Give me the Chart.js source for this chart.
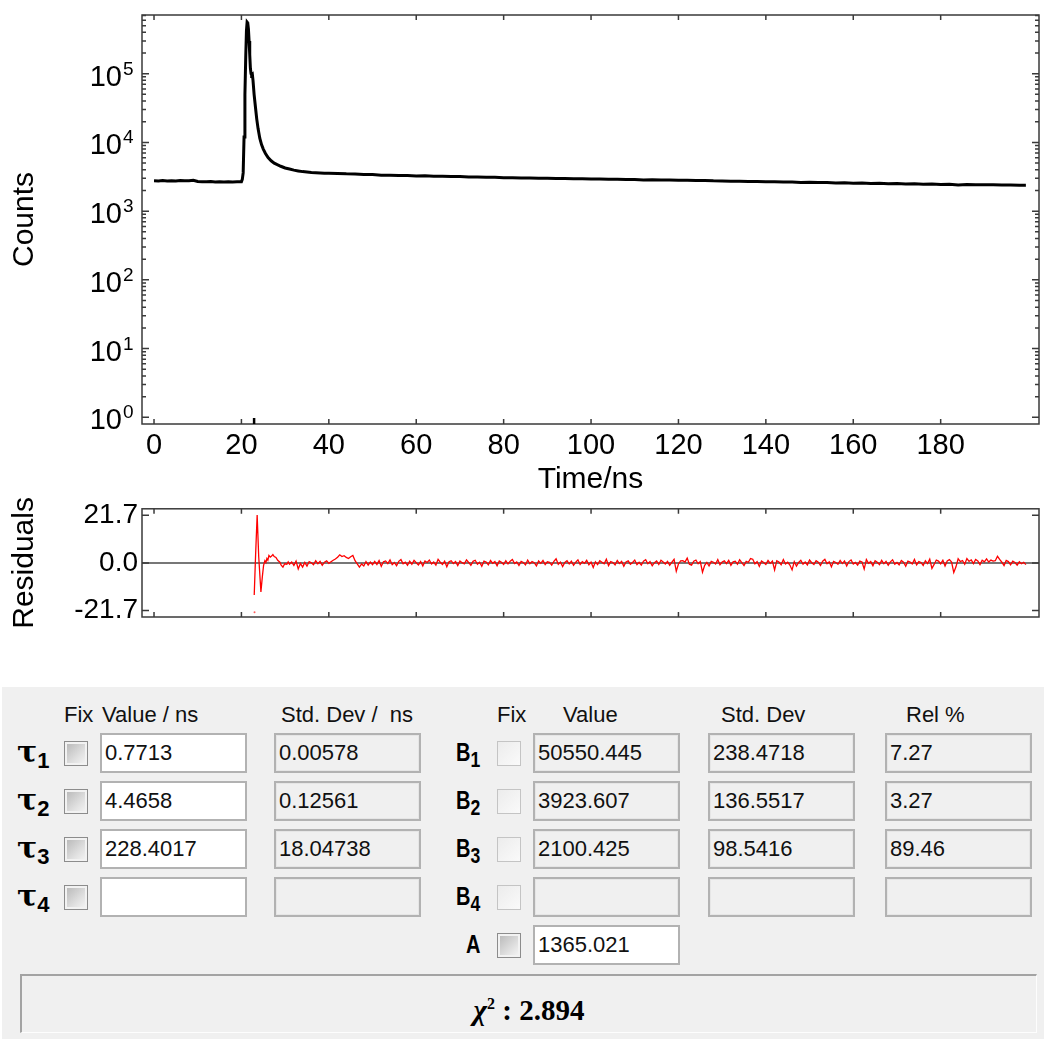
<!DOCTYPE html>
<html>
<head>
<meta charset="utf-8">
<script src="https://cdn.jsdelivr.net/npm/chart.js@4.4.1/dist/chart.umd.min.js"></script>
<style>
  html, body { margin: 0; padding: 0; background: #fff; width: 1044px; height: 1039px; overflow: hidden;
    font-family: "Liberation Sans", Arial, sans-serif; }
  canvas { position: absolute; left: 0; }
  #decay { top: 0; }
  #resid { top: 488px; }
  #panel { position: absolute; left: 2px; top: 687px; width: 1042px; height: 352px; background: #f0f0f0; }
  .hdr { position: absolute; font-size: 22px; line-height: 26px; color: #111; white-space: pre; }
  .box { position: absolute; width: 147px; height: 40px; box-sizing: border-box; border: 2px solid #b2b2b2;
    background: #f0f0f0; box-shadow: inset 0 0 0 1px #e6e6e6; font-size: 22px; line-height: 36px;
    padding-left: 3px; color: #111; }
  .box.white { background: #fff; box-shadow: none; }
  .cb { position: absolute; width: 24px; height: 25px; box-sizing: border-box; border: 1px solid #8c8c8c;
    background: linear-gradient(135deg, #b5b5b5 0%, #e2e2e2 65%, #f7f7f7 100%); box-shadow: inset 0 0 0 2px #f2f2f2; }
  .cb.light { border-color: #c4c4c4; background: linear-gradient(135deg, #ececec 0%, #fafafa 100%); box-shadow: none; }
  .tau { position: absolute; font-family: "DejaVu Serif", serif; font-weight: bold; font-size: 30px; line-height: 30px; color: #000; }
  .tau sub, .blab sub { font-family: "Liberation Sans", Arial, sans-serif; font-weight: bold; font-size: 22px; vertical-align: -6px; }
  .blab { position: absolute; font-weight: bold; font-size: 25px; line-height: 30px; color: #000;
    transform: scaleX(0.8); transform-origin: left center; }
  #chi { position: absolute; left: 20px; top: 974px; width: 1017px; height: 59px; box-sizing: border-box;
    border-top: 2px solid #a3a3a3; border-left: 2px solid #a3a3a3; border-right: 1px solid #fdfdfd; border-bottom: 1px solid #fdfdfd;
    text-align: center; font-family: "Liberation Serif", "Times New Roman", serif; font-weight: bold; font-size: 29px; line-height: 56px; color: #000; }
  #chi i { font-style: italic; }
  #chi sup { font-size: 16px; vertical-align: 11px; }
</style>
</head>
<body>
<canvas id="decay" width="1044" height="500"></canvas>
<canvas id="resid" width="1044" height="152"></canvas>
<div id="panel"></div>
<div id="fitTable"></div>
<div id="chi"></div>
<script>
// decay curve (Counts vs Time/ns)
const timeNs = [
  0, 1, 2, 3, 4, 5, 6, 7, 8, 9, 10, 11, 12, 13, 14, 15, 16, 17, 18, 19, 20,
  20.2, 20.4, 20.6, 20.8, 21.0, 21.15, 21.3, 21.45, 21.6, 21.75, 21.9, 22.05, 22.2, 22.35, 22.5, 22.65,
  22.9, 23.2, 23.5, 23.8, 24.2, 24.6, 25.0, 25.5, 26.1, 26.8, 27.5, 28.2, 29, 30, 31, 32, 33, 34, 35,
  36, 37, 38, 39, 40,
  42, 44, 46, 48, 50, 52, 54, 56, 58, 60, 62, 64, 66, 68, 70, 72, 74, 76, 78, 80,
  82, 84, 86, 88, 90, 92, 94, 96, 98, 100, 102, 104, 106, 108, 110, 112, 114, 116, 118, 120,
  122, 124, 126, 128, 130, 132, 134, 136, 138, 140, 142, 144, 146, 148, 150, 152, 154, 156, 158, 160,
  162, 164, 166, 168, 170, 172, 174, 176, 178, 180, 182, 184, 186, 188, 190, 192, 194, 196, 198, 199.5
];
const counts = [
  2760, 2740, 2780, 2750, 2770, 2740, 2800, 2760, 2770, 2820, 2700, 2680, 2670, 2690, 2660, 2680, 2660, 2680, 2660, 2670, 2670,
  2900, 3600, 12000, 50000, 190000, 420000, 560000, 545000, 450000, 300000, 190000, 120000, 100000, 96000, 98000, 80000,
  50000, 33000, 22000, 16000, 11500, 9300, 8000, 6900, 6000, 5400, 5000, 4750, 4500, 4250, 4100, 3950, 3850, 3760, 3700,
  3640, 3610, 3580, 3560, 3550,
  3540, 3490, 3480, 3420, 3400, 3340, 3330, 3290, 3290, 3250, 3260, 3220, 3220, 3180, 3180, 3140, 3140, 3100, 3100, 3060,
  3060, 3030, 3040, 3000, 3010, 2980, 2990, 2960, 2970, 2940, 2940, 2910, 2910, 2880, 2890, 2850, 2860, 2830, 2840, 2810,
  2820, 2790, 2790, 2760, 2750, 2730, 2720, 2700, 2700, 2670, 2680, 2650, 2650, 2620, 2630, 2600, 2600, 2570, 2580, 2550,
  2560, 2530, 2540, 2510, 2520, 2490, 2500, 2470, 2480, 2450, 2460, 2410, 2440, 2430, 2420, 2430, 2400, 2410, 2380, 2390
];

// weighted residuals: irregular head, then one value every 0.5 ns from 31 ns
const resHeadTime = [22.93, 23.25, 23.6, 23.95, 24.46, 24.8, 25.07, 25.37, 25.6, 25.83, 26.05, 26.29,
  26.6, 26.9, 27.2, 27.5, 27.9, 28.3, 28.8, 29.1, 29.5, 29.9, 30.4, 30.7];
const resHeadValue = [-14.6, 4.0, 21.8, 3.0, -13.2, -6.0, -1.1, 1.0, 0.2, 2.0, 1.2, 3.4,
  2.6, 3.1, 3.8, 2.9, 2.5, 1.2, 0.3, -1.0, -1.9, -0.4, -0.6, 0.5];
const resTailStart = 31;
const resTailStep = 0.5;
const resTailValue = [
  -0.6, 0.4, -1.2, 0.8, -2.8, -0.3, -1.9, 0.2, -1.5, 0.6, 0.1, -0.8, 1.0, -0.4, 0.7, -1.1, 0.3, 0.9, -0.2, 0.5,
  1.2, 1.8, 2.6, 3.7, 2.9, 3.3, 2.5, 2.0, 2.8, 3.4, 1.0, -0.4, -1.9, -0.5, -1.4, 0.6, -1.0, 0.4, -0.8, 0.7,
  -0.7, 1.1, -1.6, 0.5, 0.9, -0.3, 1.4, -0.8, 0.2, -1.3, 0.7, 1.5, -0.4, 0.3, -1.1, 0.8, -0.6, 1.2, 0.1, -0.9,
  0.6, -1.4, 0.9, 0.2, 1.3, -0.5, 0.4, -1.0, 1.6, 0.3, -0.7, 0.8, -1.8, 0.5, 1.0, -0.3, 0.6, -1.2, 0.9, 0.1,
  -0.4, 1.4, 0.2, -1.1, 0.7, 1.2, -0.6, 0.3, -1.5, 0.8, 0.4, -0.9, 1.1, -0.2, 0.6, -1.3, 0.9, 0.3, -0.7, 1.0,
  -0.5, 0.8, 1.6, -0.3, 0.4, -1.2, 0.7, 0.2, -0.9, 1.3, -0.4, 0.6, 0.1, -1.4, 0.9, -0.2, 1.1, -0.8, 0.5, 0.3,
  -1.0, 0.7, 1.9, -0.6, 0.4, -1.7, 0.2, 1.0, -0.5, 0.8, -1.1, 0.3, 1.4, -0.7, 0.6, -0.2, 1.2, -0.9, 0.4, -2.1,
  0.5, -0.8, 1.0, 0.3, -0.4, 1.7, -1.2, 0.6, 0.2, -0.9, 1.1, -0.3, 0.7, -1.5, 0.4, 0.9, -0.6, 0.2, 1.3, -0.8,
  0.3, -1.0, 0.8, 1.5, -0.4, 0.6, -1.3, 0.1, 0.9, -0.7, 1.2, 0.4, -0.5, 0.7, -1.1, 0.3, 1.6, -3.8, -0.5, 0.9,
  1.0, 0.4, 2.2, -0.6, -1.0, 0.8, 1.3, -0.4, 0.6, -4.2, -1.1, 0.2, -1.4, 0.7, 0.3, -0.5, 1.5, -0.8, 0.4, 0.9,
  -0.3, 1.2, -1.1, 0.5, 0.8, -0.6, 1.4, 0.1, -1.2, 0.7, 0.3, 2.0, 1.7, -0.4, 0.6, -1.6, 0.9, 0.2, -0.7, 1.1,
  -0.2, 0.8, -3.2, 1.0, 0.4, -0.8, 1.5, -0.5, 0.3, -1.0, -3.2, 0.6, -1.5, 0.2, 1.2, -0.6, 0.4, -0.9, 1.3, 0.1,
  -0.7, 1.0, 0.3, -1.2, 0.8, 1.6, -0.4, 0.5, -1.8, 0.7, 0.2, -0.6, 1.1, -0.3, 0.9, -1.4, 0.6, 1.3, -0.5, 0.2,
  -1.0, 0.8, 0.4, -2.8, 1.5, -0.2, 0.6, -1.3, 1.0, 0.3, -0.8, 1.2, -0.4, 0.7, -1.1, 0.5, 1.4, -0.6, 0.2, -0.9,
  1.1, 0.3, -1.5, 0.8, 0.4, -0.5, 1.6, -0.9, 0.6, 0.2, -1.2, 1.0, -0.3, 1.7, -2.5, -0.7, 1.3, 0.8, -0.4, 1.2,
  -1.4, 0.9, 1.5, 0.4, -4.4, -1.8, 1.9, 0.6, 1.1, -0.6, 2.0, 0.7, 1.4, -0.3, 1.6, 0.9, -0.8, 1.2, 0.5, 1.8,
  0.4, 1.3, 0.8, 1.0, 3.0, 1.6, 0.3, -1.2, 1.1, 0.6, -0.9, 0.8, 0.2, -1.0, 0.5, -0.4, 0.3, -0.8
];
const resStrayPoint = [{ x: 23.0, y: -22.5 }];

// axes
const timeTicks = [0, 20, 40, 60, 80, 100, 120, 140, 160, 180];
const decadeTicks = [1, 10, 100, 1000, 10000, 100000];
const residTicks = [-21.7, 0, 21.7];
const fitStartNs = 22.9;

// fit parameters table
const tauValues = ['0.7713', '4.4658', '228.4017', ''];
const tauStdDev = ['0.00578', '0.12561', '18.04738', ''];
const bValues = ['50550.445', '3923.607', '2100.425', ''];
const bStdDev = ['238.4718', '136.5517', '98.5416', ''];
const relPercent = ['7.27', '3.27', '89.46', ''];
const offsetA = '1365.021';
const chiSquare = '2.894';

const FONT = '"Liberation Sans", Arial, sans-serif';
Chart.defaults.font.family = FONT;
Chart.defaults.color = '#000';

const minorTicks = [];
decadeTicks.forEach(d => { for (let k = 2; k <= 9; k++) if (d * k < 7.1e5) minorTicks.push(d * k); });

// frame + inward ticks, like the original fitting program
const framePlugin = {
  id: 'frame',
  beforeDatasetsDraw(chart, args, opts) {
    if (!opts.zeroLine) return;
    const { ctx, chartArea: a, scales } = chart;
    const y = scales.y.getPixelForValue(0);
    ctx.save();
    ctx.strokeStyle = '#777';
    ctx.lineWidth = 2;
    ctx.beginPath(); ctx.moveTo(a.left, y); ctx.lineTo(a.right, y); ctx.stroke();
    ctx.restore();
  },
  afterDatasetsDraw(chart, args, opts) {
    const { ctx, chartArea: a, scales } = chart;
    ctx.save();
    ctx.strokeStyle = '#3a3a3a';
    ctx.lineWidth = 1.5;
    ctx.strokeRect(a.left, a.top, a.right - a.left, a.bottom - a.top);
    ctx.beginPath();
    (opts.xTicks || []).forEach(v => {
      const x = scales.x.getPixelForValue(v);
      ctx.moveTo(x, a.top); ctx.lineTo(x, a.top + 5);
      ctx.moveTo(x, a.bottom); ctx.lineTo(x, a.bottom - 5);
    });
    const yTick = (v, len) => {
      const y = scales.y.getPixelForValue(v);
      ctx.moveTo(a.left, y); ctx.lineTo(a.left + len, y);
      ctx.moveTo(a.right, y); ctx.lineTo(a.right - len, y);
    };
    (opts.yMajor || []).forEach(v => yTick(v, 7));
    (opts.yMinor || []).forEach(v => yTick(v, 4));
    ctx.stroke();
    if (opts.marker !== undefined) {
      const x = scales.x.getPixelForValue(opts.marker);
      ctx.strokeStyle = '#000';
      ctx.lineWidth = 2.5;
      ctx.beginPath(); ctx.moveTo(x, a.bottom); ctx.lineTo(x, a.bottom - 6); ctx.stroke();
    }
    ctx.restore();
  }
};

// 10^n labels with a raised exponent
const decadeLabels = {
  id: 'decadeLabels',
  afterDraw(chart) {
    const { ctx } = chart;
    const y = chart.scales.y;
    ctx.save();
    ctx.fillStyle = '#000';
    decadeTicks.forEach(v => {
      const py = y.getPixelForValue(v);
      ctx.font = '29px ' + FONT;
      ctx.textAlign = 'right';
      ctx.textBaseline = 'alphabetic';
      ctx.fillText('10', 122, py + 12);
      ctx.font = '19px ' + FONT;
      ctx.textAlign = 'left';
      ctx.fillText(String(Math.round(Math.log10(v))), 123, py + 1);
    });
    ctx.restore();
  }
};

new Chart(document.getElementById('decay'), {
  type: 'line',
  data: {
    datasets: [{
      data: timeNs.map((t, i) => ({ x: t, y: counts[i] })),
      borderColor: '#000',
      borderWidth: 3,
      pointRadius: 0,
      tension: 0,
    }],
  },
  options: {
    responsive: false,
    animation: false,
    layout: { padding: { top: 15, right: 5, left: 0, bottom: 0 } },
    plugins: {
      legend: { display: false },
      tooltip: { enabled: false },
      frame: { xTicks: timeTicks, yMajor: decadeTicks, yMinor: minorTicks, marker: fitStartNs },
    },
    scales: {
      x: {
        type: 'linear', min: -2.75, max: 202.5,
        afterBuildTicks: s => { s.ticks = timeTicks.map(v => ({ value: v })); },
        afterFit: s => { s.height = 76; },
        grid: { display: false, drawTicks: false },
        border: { display: false },
        ticks: { font: { size: 29 }, padding: 5, maxRotation: 0, autoSkip: false },
        title: { display: true, text: 'Time/ns', font: { size: 30 }, padding: { top: 0, bottom: 2 } },
      },
      y: {
        type: 'logarithmic', min: 0.8, max: 7.14e5,
        afterFit: s => { s.width = 142; },
        grid: { display: false, drawTicks: false },
        border: { display: false },
        ticks: { display: false },
        title: { display: true, text: 'Counts', font: { size: 30 }, padding: { top: 7, bottom: 0 } },
      },
    },
  },
  plugins: [framePlugin, decadeLabels],
});

const residTime = resHeadTime.concat(resTailValue.map((_, i) => resTailStart + i * resTailStep));
const residValue = resHeadValue.concat(resTailValue);

new Chart(document.getElementById('resid'), {
  type: 'line',
  data: {
    datasets: [{
      data: residTime.map((t, i) => ({ x: t, y: residValue[i] })),
      borderColor: '#ff0000',
      borderWidth: 1.3,
      pointRadius: 0,
      tension: 0,
    }, {
      data: resStrayPoint,
      showLine: false,
      pointRadius: 1,
      pointBackgroundColor: '#ff6060',
      pointBorderWidth: 0,
    }],
  },
  options: {
    responsive: false,
    animation: false,
    layout: { padding: { top: 16, right: 5, left: 0, bottom: 0 } },
    plugins: {
      legend: { display: false },
      tooltip: { enabled: false },
      frame: { xTicks: timeTicks, yMajor: residTicks, zeroLine: true },
    },
    scales: {
      x: {
        type: 'linear', min: -2.75, max: 202.5,
        afterFit: s => { s.height = 23; },
        grid: { display: false, drawTicks: false },
        border: { display: false },
        ticks: { display: false },
      },
      y: {
        min: -24.64, max: 24.64,
        afterBuildTicks: s => { s.ticks = residTicks.map(v => ({ value: v })); },
        afterFit: s => { s.width = 142; },
        grid: { display: false, drawTicks: false },
        border: { display: false },
        ticks: { font: { size: 28 }, padding: 4, callback: v => v.toFixed(1) },
        title: { display: true, text: 'Residuals', font: { size: 30 }, padding: { top: 7, bottom: 0 } },
      },
    },
  },
  plugins: [framePlugin],
});

// parameter panel
const table = document.getElementById('fitTable');
function add(cls, left, top, html) {
  const el = document.createElement('div');
  el.className = cls;
  el.style.left = left + 'px';
  el.style.top = top + 'px';
  el.innerHTML = html;
  table.appendChild(el);
  return el;
}
add('hdr', 64, 702, 'Fix');
add('hdr', 102, 702, 'Value / ns');
add('hdr', 281, 702, 'Std. Dev /  ns');
add('hdr', 497, 702, 'Fix');
add('hdr', 563, 702, 'Value');
add('hdr', 721, 702, 'Std. Dev');
add('hdr', 906, 702, 'Rel %');

const rowTops = [733, 781, 829, 877];
rowTops.forEach((top, i) => {
  add('tau', 17, top + 4, '\u03c4<sub>' + (i + 1) + '</sub>');
  add('cb', 64, top + 8, '');
  add('box white', 100, top, tauValues[i]);
  add('box', 274, top, tauStdDev[i]);
  add('blab', 456, top + 4, 'B<sub>' + (i + 1) + '</sub>');
  add('cb light', 497, top + 8, '');
  add('box', 533, top, bValues[i]);
  add('box', 708, top, bStdDev[i]);
  add('box', 885, top, relPercent[i]);
});
add('blab', 466, 929, 'A');
add('cb', 497, 933, '');
add('box white', 533, 925, offsetA);
document.getElementById('chi').innerHTML = '<i>\u03c7</i><sup>2</sup> : ' + chiSquare;
</script>
</body>
</html>
